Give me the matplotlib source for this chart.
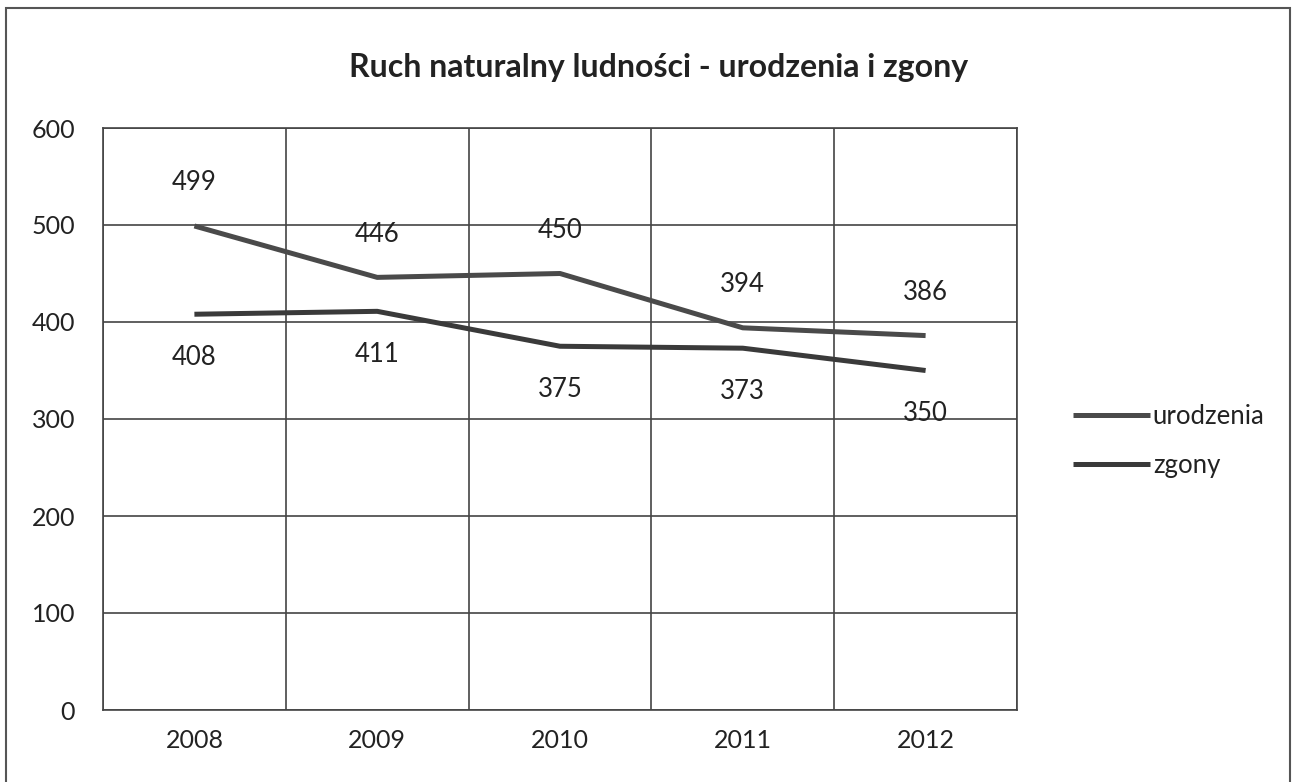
import matplotlib.pyplot as plt
from matplotlib.patches import Rectangle

years = ["2008", "2009", "2010", "2011", "2012"]
urodzenia = [499, 446, 450, 394, 386]
zgony = [408, 411, 375, 373, 350]

plt.rcParams["font.family"] = ["Lato", "DejaVu Sans"]

fig = plt.figure(figsize=(12.96, 7.82), dpi=100)
ax = fig.add_axes([103 / 1296, 1 - 710 / 782, (1017 - 103) / 1296, (710 - 128) / 782])

x = range(len(years))
ax.plot(x, urodzenia, color="#4a4a4a", lw=3.6, label="urodzenia", solid_capstyle="butt")
ax.plot(x, zgony, color="#3a3a3a", lw=3.6, label="zgony", solid_capstyle="butt")

for i, v in enumerate(urodzenia):
    ax.annotate(str(v), (i, v), xytext=(0, 31), textcoords="offset points",
                ha="center", va="center", fontsize=18.5, color="#222222")
for i, v in enumerate(zgony):
    ax.annotate(str(v), (i, v), xytext=(0, -31), textcoords="offset points",
                ha="center", va="center", fontsize=18.5, color="#222222")

ax.set_xlim(-0.5, len(years) - 0.5)
ax.set_ylim(0, 600)
ax.set_yticks(range(0, 601, 100))
ax.set_xticks(list(x))
ax.set_xticklabels(years)
ax.tick_params(axis="both", length=0, labelsize=18, colors="#222222")
ax.tick_params(axis="y", pad=20)
ax.tick_params(axis="x", pad=14)

ax.set_xticks([i + 0.5 for i in range(-1, len(years))], minor=True)
ax.grid(True, axis="y", which="major", color="#444444", lw=1.2)
ax.grid(True, axis="x", which="minor", color="#444444", lw=1.2)
ax.tick_params(which="minor", length=0)
for s in ax.spines.values():
    s.set_color("#444444")
    s.set_linewidth(1.2)

fig.suptitle("Ruch naturalny ludności - urodzenia i zgony", x=0.508, y=0.932,
             fontsize=23, fontweight="bold", color="#222222")

fig.legend(loc="center left", bbox_to_anchor=(1050 / 1296, 1 - 441 / 782),
           frameon=False, fontsize=18.5, handlelength=3.0, handletextpad=0.1,
           labelspacing=0.9, labelcolor="#222222")

fig.patches.append(Rectangle((6 / 1296, -0.01), (1290 - 6) / 1296, 1 - 8 / 782 + 0.01,
                             transform=fig.transFigure, fill=False,
                             edgecolor="#555555", lw=1.5))

fig.savefig("out.png", dpi=100)
